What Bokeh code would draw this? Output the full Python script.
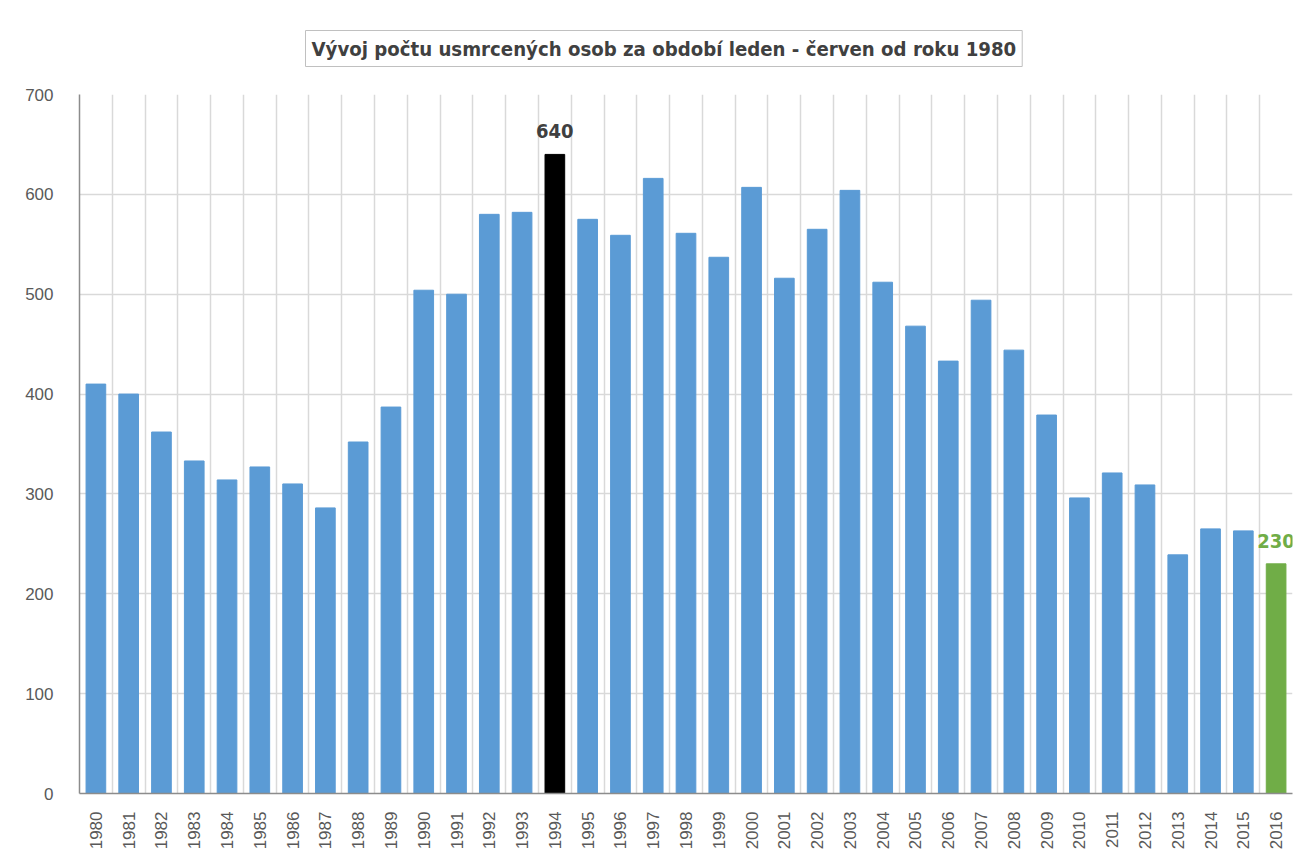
from bokeh.plotting import figure
from bokeh.models import FixedTicker, Label, Grid, ColumnDataSource, Range1d
from bokeh.embed import file_html
from bokeh.resources import INLINE
from math import pi

years = list(range(1980, 2017))
values = [410, 400, 362, 333, 314, 327, 310, 286, 352, 387,
          504, 500, 580, 582, 640, 575, 559, 616, 561, 537,
          607, 516, 565, 604, 512, 468, 433, 494, 444, 379,
          296, 321, 309, 239, 265, 263, 230]
highlight_max = 1994
highlight_last = 2016
title_text = "Vývoj počtu usmrcených osob za období leden - červen od roku 1980"

BLUE = "#5B9BD5"
BLACK = "#000000"
GREEN = "#70AD47"
NARROW = "DejaVu Sans Condensed"

colors = [BLACK if y == highlight_max else GREEN if y == highlight_last else BLUE for y in years]
src = ColumnDataSource(dict(x=years, top=values, color=colors))

p = figure(width=1307, height=855, output_backend="svg", toolbar_location=None,
           x_range=Range1d(years[0] - 0.5, years[-1] + 0.5), y_range=Range1d(0, 700),
           min_border_left=79, min_border_right=15, min_border_top=94, min_border_bottom=62)
p.outline_line_color = None
p.vbar(x="x", top="top", width=0.6, color="color", source=src)

# title
p.title.text = title_text
p.title.align = "left"
p.title.offset = 226
p.title.text_font = NARROW
p.title.text_font_style = "bold"
p.title.text_font_size = "20.2px"
p.title.text_color = "#404040"
p.title.border_line_color = "#C0C0C0"
p.title.background_fill_color = "white"
p.title.padding = 6
p.title.standoff = 56

# axes
p.xaxis.ticker = FixedTicker(ticks=years)
p.yaxis.ticker = FixedTicker(ticks=list(range(0, 701, 100)))
for ax in (p.xaxis[0], p.yaxis[0]):
    ax.axis_line_color = "#8C8C8C"
    ax.axis_line_width = 1.5
    ax.major_tick_line_color = None
    ax.minor_tick_line_color = None
    ax.major_label_text_color = "#595959"
    ax.major_label_text_font = "Liberation Sans"
    ax.major_label_text_font_size = "17px"
p.xaxis.major_label_orientation = pi / 2
p.xaxis.major_label_standoff = 12
p.yaxis.major_label_standoff = 20

# grids
p.xgrid.grid_line_color = None
p.ygrid.grid_line_color = "#D9D9D9"
p.ygrid.grid_line_width = 1.5
vgrid = Grid(dimension=0, ticker=FixedTicker(ticks=[y + 0.5 for y in years]),
             grid_line_color="#D9D9D9", grid_line_width=1.5)
p.add_layout(vgrid)

# value labels
i_max = years.index(highlight_max)
i_last = years.index(highlight_last)
p.add_layout(Label(x=years[i_max], y=values[i_max], text=str(values[i_max]), y_offset=16,
                   text_align="center", text_baseline="bottom", text_font=NARROW,
                   text_font_style="bold", text_font_size="20px", text_color="#404040"))
p.add_layout(Label(x=years[i_last], y=values[i_last], text=str(values[i_last]), y_offset=16,
                   text_align="center", text_baseline="bottom", text_font=NARROW,
                   text_font_style="bold", text_font_size="20px", text_color=GREEN))

open("out.html", "w").write(file_html(p, INLINE))
